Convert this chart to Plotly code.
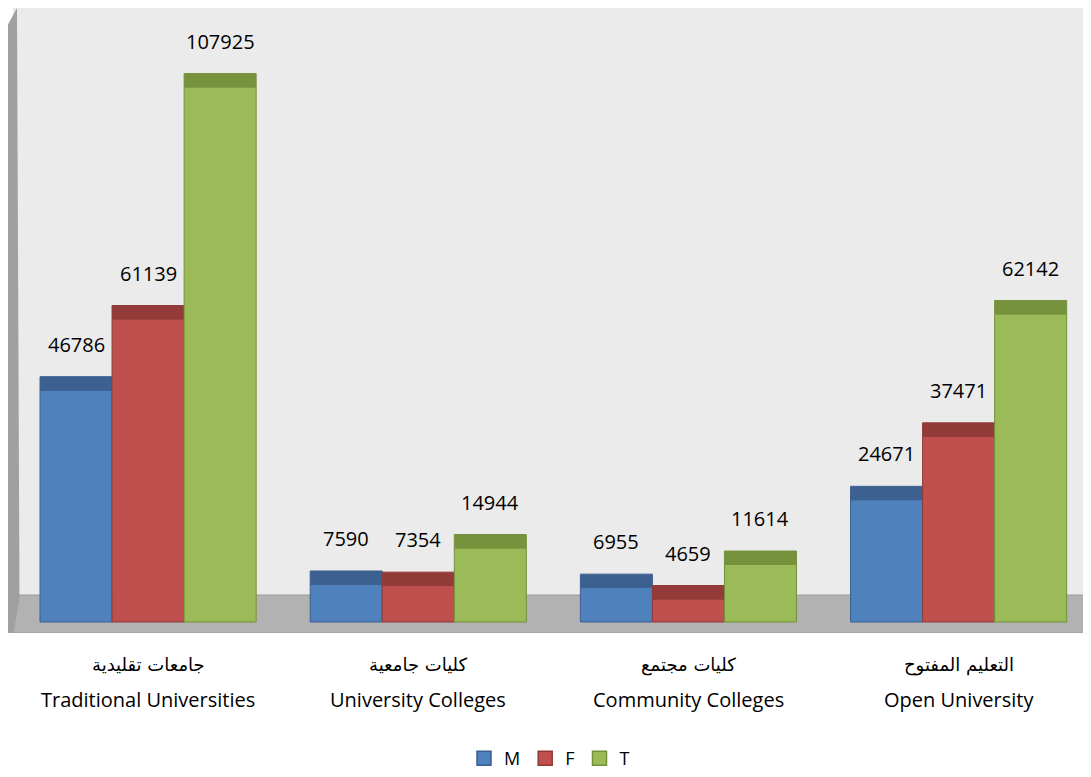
import plotly.graph_objects as go

categories_en = ["Traditional Universities", "University Colleges", "Community Colleges", "Open University"]
categories_ar = ["جامعات تقليدية", "كليات جامعية", "كليات مجتمع", "التعليم المفتوح"]
series_names = ["M", "F", "T"]
M = [46786, 7590, 6955, 24671]
F = [61139, 7354, 4659, 37471]
T = [107925, 14944, 11614, 62142]

values = [M, F, T]
face_colors = ["#4f81bd", "#c0504d", "#9bbb59"]
cap_colors = ["#3c6190", "#923b39", "#76923c"]
edge_colors = ["#3a6090", "#8f3a38", "#74903a"]
CAP = 2700

x_idx = list(range(len(categories_en)))
fig = go.Figure()
for name, vals, fc, cc, ec in zip(series_names, values, face_colors, cap_colors, edge_colors):
    fig.add_trace(go.Bar(x=x_idx, y=vals, name=name, offsetgroup=name, showlegend=False,
                         marker=dict(color=fc, line=dict(color=ec, width=1))))
    fig.add_trace(go.Bar(x=x_idx, y=[CAP] * len(vals), base=vals, offsetgroup=name,
                         showlegend=False, hoverinfo="skip",
                         marker=dict(color=cc, line=dict(color=cc, width=1))))
for name, fc, ec in zip(series_names, face_colors, edge_colors):
    fig.add_trace(go.Scatter(x=[None], y=[None], mode="markers", name=name,
                             marker=dict(symbol="square", size=14, color=fc,
                                         line=dict(color=ec, width=1.5))))

annotations = []
bw = 0.8 / 3
for si, vals in enumerate(values):
    for ci, v in enumerate(vals):
        annotations.append(dict(x=ci + (si - 1) * bw, y=v + CAP, xref="x", yref="y",
                                text=str(v), showarrow=False, yanchor="bottom", yshift=17,
                                font=dict(family="Open Sans", size=20, color="#000")))
for ci in x_idx:
    annotations.append(dict(x=ci, y=-0.051, xref="x", yref="paper", text=categories_ar[ci],
                            showarrow=False, yanchor="middle",
                            font=dict(family="DejaVu Sans", size=18, color="#000")))
    annotations.append(dict(x=ci, y=-0.107, xref="x", yref="paper", text=categories_en[ci],
                            showarrow=False, yanchor="middle",
                            font=dict(family="Open Sans", size=20, color="#000")))

shapes = [
    # floor
    dict(type="path", xref="paper", yref="y", layer="below",
         path="M 0.0,-2220 L 1.0,-2220 L 0.994,5446 L 0.006,5446 Z",
         fillcolor="#b2b2b2", line=dict(color="#9a9a9a", width=1)),
    # left wall
    dict(type="path", xref="paper", yref="y", layer="above",
         path="M -0.0085,-2220 L 0.0,-2220 L 0.006,5446 L 0.0037,123850 L -0.0085,119000 Z",
         fillcolor="#a0a0a0", line=dict(width=0)),
]

fig.update_layout(
    width=1083, height=769,
    margin=dict(l=5, r=0, t=0, b=144),
    paper_bgcolor="#ffffff", plot_bgcolor="#ebebeb",
    barmode="group", bargap=0.2, bargroupgap=0,
    showlegend=True,
    legend=dict(orientation="h", x=0.5, xanchor="center", xref="container",
                y=0.0, yanchor="bottom", yref="container",
                font=dict(family="Open Sans", size=18, color="#000"), itemwidth=30,
                traceorder="normal"),
    xaxis=dict(range=[-0.5, 3.49], showticklabels=False, showgrid=False, zeroline=False,
               ticks="", fixedrange=True),
    yaxis=dict(range=[-2220, 123850], showticklabels=False, showgrid=False, zeroline=False,
               ticks=""),
    annotations=annotations,
    shapes=shapes,
)

fig.write_html("out.html")
